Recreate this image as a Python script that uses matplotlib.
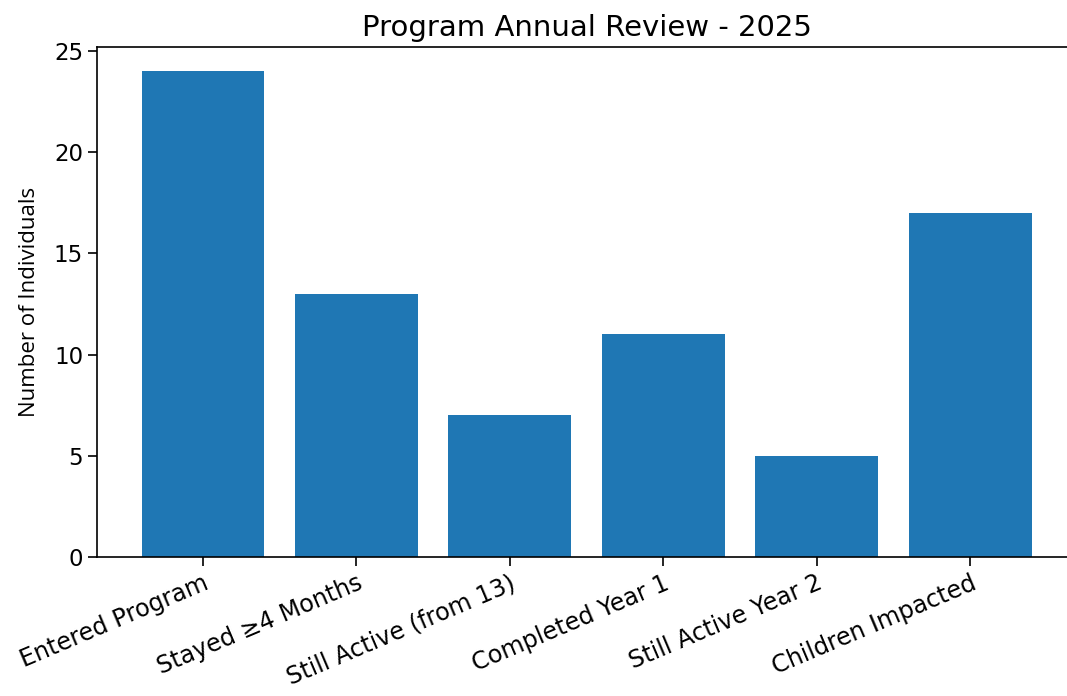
import matplotlib
matplotlib.use("Agg")
import matplotlib.pyplot as plt

categories = ["Entered Program", "Stayed \u22654 Months", "Still Active (from 13)",
              "Completed Year 1", "Still Active Year 2", "Children Impacted"]
values = [24, 13, 7, 11, 5, 17]
title = "Program Annual Review - 2025"
ylabel = "Number of Individuals"

fig = plt.figure(figsize=(10.67, 6.96), dpi=100)
ax = fig.add_axes([97/1067, 1 - 557/696, (1076-97)/1067, (557-47)/696])
ax.bar(categories, values, color="#1f77b4", width=0.8)
ax.set_title(title, fontsize=21, pad=8)
ax.set_ylabel(ylabel, fontsize=16, family=["Open Sans", "DejaVu Sans"], labelpad=10)
ax.tick_params(axis="y", labelsize=16.5, length=6.5, width=1.2)
ax.tick_params(axis="x", labelsize=17.2, length=6.5, width=1.2)
plt.setp(ax.get_xticklabels(), rotation=23, ha="right", rotation_mode="anchor")
for s in ax.spines.values():
    s.set_linewidth(1.2)
fig.savefig("out.png", dpi=100)
